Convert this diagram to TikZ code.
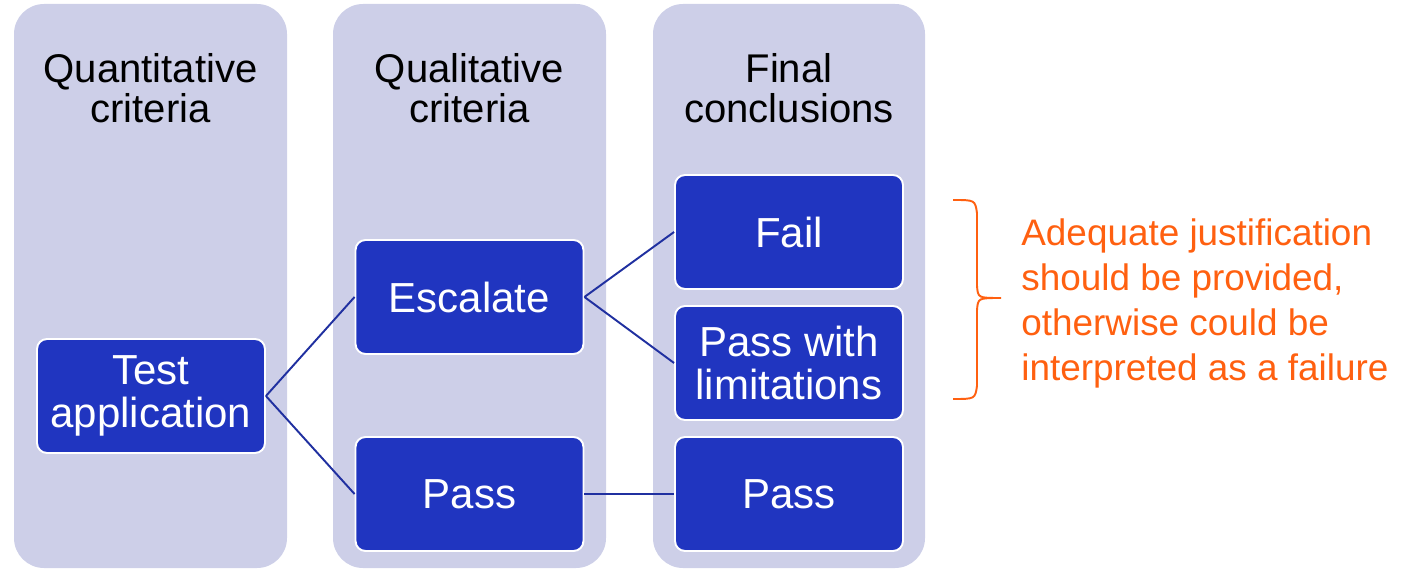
\documentclass[tikz,border=0pt]{standalone}
\usepackage{fontspec}
\setmainfont{Liberation Sans}
\definecolor{panelbg}{HTML}{CDCFE8}
\definecolor{boxblue}{HTML}{2035C0}
\definecolor{linkblue}{HTML}{2030A0}
\definecolor{noteorange}{HTML}{FF6010}

\begin{document}
\begin{tikzpicture}[x = 0.02cm, y = -0.02cm,
		panel/.style = {fill = panelbg, rounded corners = 0.6cm},
		head/.style = {align = center, inner sep = 0pt, font = \fontsize{22.8}{22.8}\selectfont},
		box/.style = {draw = white, line width = 1.1pt, fill = boxblue, rounded corners = 0.2cm,
			text = white, align = center, inner sep = 0pt, minimum width = 4.56cm, minimum height = 2.28cm,
			font = \fontsize{23.9}{24.5}\selectfont},
		link/.style = {draw = linkblue, line width = 1.1pt}]
		
		\useasboundingbox (0, 0) rectangle (1409, 570);
		
		\path[panel] (14, 4) rectangle (287, 568);
		\path[panel] (333, 4) rectangle (606, 568);
		\path[panel] (653, 4) rectangle (925, 568);
		
		\node[head] (quant) at (150.5, 88) {Quantitative\\criteria};
		\node[head] (qual) at (469.5, 88) {Qualitative\\criteria};
		\node[head] (final) at (789, 88) {Final\\conclusions};
		
		\node[box] (test) at (151, 396) {Test\\application};
		\node[box] (escalate) at (469.5, 297) {Escalate};
		\node[box] (passq) at (469.5, 494) {Pass};
		\node[box] (fail) at (789, 232) {Fail};
		\node[box] (passlim) at (789, 363) {Pass with\\limitations};
		\node[box] (passf) at (789, 494) {Pass};
		
		\draw[link] (test.east) -- (escalate.west);
		\draw[link] (test.east) -- (passq.west);
		\draw[link] (escalate.east) -- (fail.west);
		\draw[link] (escalate.east) -- (passlim.west);
		\draw[link] (passq.east) -- (passf.west);
		
		\draw[noteorange, line width = 1.1pt] (953, 200) .. controls (975, 200) .. (977, 213) -- (977, 286)
			.. controls (978, 298) .. (1001, 298) .. controls (978, 298) .. (977, 310) -- (977, 386)
			.. controls (975, 399) .. (953, 399);
		
		\node[anchor = west, align = left, inner sep = 0pt, text = noteorange,
			font = \fontsize{21}{25.6}\selectfont] (note) at (1021, 303)
			{Adequate justification\\should be provided,\\otherwise could be\\interpreted as a failure};
		
	\end{tikzpicture}
\end{document}
